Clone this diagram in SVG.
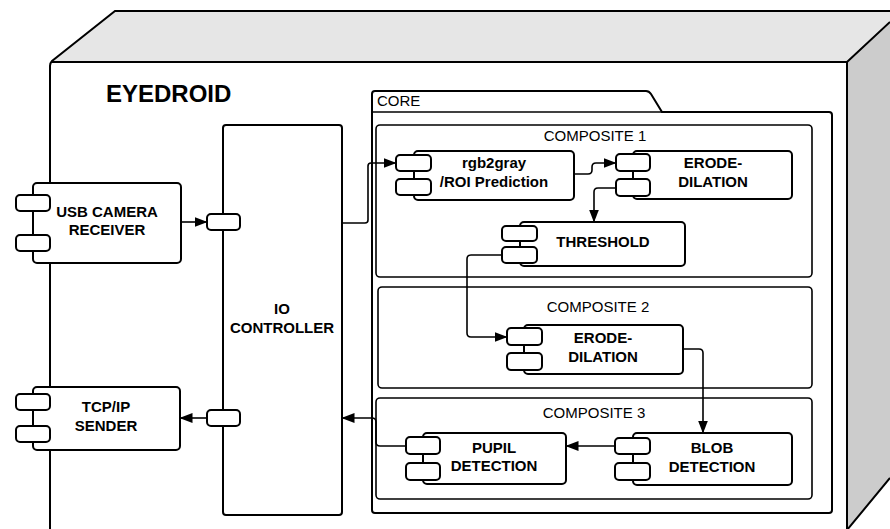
<svg xmlns="http://www.w3.org/2000/svg" width="890" height="529" viewBox="0 0 890 529">
<defs>
<style>
.box{fill:#fff;stroke:#000;stroke-width:2}
.thin{fill:#fff;stroke:#000;stroke-width:1.6}
.conn{fill:none;stroke:#000;stroke-width:1.6}
.lbl{font-family:"Liberation Sans",Arial,sans-serif;font-weight:bold;font-size:15px;text-anchor:middle;fill:#000}
.cap{font-family:"Liberation Sans",Arial,sans-serif;font-size:15px;fill:#000}
</style>
<marker id="ah" markerWidth="13" markerHeight="10" refX="12.5" refY="5" orient="auto" markerUnits="userSpaceOnUse"><path d="M0,0 L13,5 L0,10 z" fill="#000"/></marker>
</defs>

<g id="eyedroid">
<polygon points="50,62 115,11 890,11 890,22 847,62" fill="#e6e6e6"/>
<polygon points="847,62 890,22 890,478 847,529" fill="#cccccc"/>
<rect x="50" y="62" width="797" height="470" fill="#fff"/>
<path d="M50,530 V66 Q50,63 52,61 L115,11 H890 M51,62 H847 L890,22 M847,62 V530 L890,478" fill="none" stroke="#000" stroke-width="2"/>
<text x="106" y="102" font-family="'Liberation Sans',Arial,sans-serif" font-weight="bold" font-size="24">EYEDROID</text>
</g>

<g id="core">
<path d="M372,510 V94 Q372,91 375,91 H646 Q649,91 651,94 L662,112 H829 Q832,112 832,115 V510 Q832,513 829,513 H375 Q372,513 372,510 Z" class="box"/>
<path d="M372,112 H662" class="conn" stroke-width="2"/>
<text x="377" y="106" class="cap">CORE</text>
</g>

<g id="composite1">
<rect x="376" y="125" width="436" height="152" rx="4" class="thin"/>
<text x="595" y="141" class="cap" text-anchor="middle">COMPOSITE 1</text>
</g>
<g id="composite2">
<rect x="378" y="287" width="434" height="101" rx="4" class="thin"/>
<text x="598" y="312" class="cap" text-anchor="middle">COMPOSITE 2</text>
</g>
<g id="composite3">
<rect x="376" y="398" width="436" height="101" rx="4" class="thin"/>
<text x="594" y="418" class="cap" text-anchor="middle">COMPOSITE 3</text>
</g>

<g id="io-controller">
<rect x="223" y="125" width="119" height="390" rx="3" class="box"/>
<rect x="207" y="214" width="33" height="16" rx="4" class="box"/>
<rect x="207" y="410" width="33" height="16" rx="4" class="box"/>
<text x="282" y="314" class="lbl">IO</text>
<text x="282" y="333" class="lbl">CONTROLLER</text>
</g>

<g id="usb-camera-receiver">
<rect x="33" y="183" width="148" height="80" rx="4" class="box"/>
<rect x="16" y="195" width="34" height="16" rx="4" class="box"/>
<rect x="16" y="235" width="34" height="16" rx="4" class="box"/>
<text x="107" y="217" class="lbl">USB CAMERA</text>
<text x="107" y="235" class="lbl">RECEIVER</text>
</g>

<g id="tcpip-sender">
<rect x="33" y="387" width="147" height="63" rx="4" class="box"/>
<rect x="16" y="394" width="34" height="16" rx="4" class="box"/>
<rect x="16" y="426" width="34" height="16" rx="4" class="box"/>
<text x="106" y="412" class="lbl">TCP/IP</text>
<text x="106" y="431" class="lbl">SENDER</text>
</g>

<g id="rgb2gray">
<rect x="414" y="151" width="160" height="49" rx="4" class="box"/>
<rect x="396" y="155" width="35" height="16" rx="4" class="box"/>
<rect x="396" y="179" width="35" height="16" rx="4" class="box"/>
<text x="494" y="168" class="lbl">rgb2gray</text>
<text x="494" y="187" class="lbl">/ROI Prediction</text>
</g>

<g id="erode-dilation-1">
<rect x="633" y="151" width="159" height="48" rx="4" class="box"/>
<rect x="616" y="154" width="34" height="17" rx="4" class="box"/>
<rect x="616" y="179" width="34" height="17" rx="4" class="box"/>
<text x="713" y="168" class="lbl">ERODE-</text>
<text x="713" y="187" class="lbl">DILATION</text>
</g>

<g id="threshold">
<rect x="520" y="222" width="165" height="44" rx="4" class="box"/>
<rect x="502" y="226" width="35" height="15" rx="4" class="box"/>
<rect x="502" y="247" width="35" height="16" rx="4" class="box"/>
<text x="603" y="247" class="lbl">THRESHOLD</text>
</g>

<g id="erode-dilation-2">
<rect x="524" y="325" width="159" height="49" rx="4" class="box"/>
<rect x="507" y="328" width="35" height="17" rx="4" class="box"/>
<rect x="507" y="353" width="35" height="17" rx="4" class="box"/>
<text x="603" y="343" class="lbl">ERODE-</text>
<text x="603" y="362" class="lbl">DILATION</text>
</g>

<g id="pupil-detection">
<rect x="423" y="433" width="143" height="51" rx="4" class="box"/>
<rect x="406" y="437" width="34" height="17" rx="4" class="box"/>
<rect x="406" y="463" width="34" height="17" rx="4" class="box"/>
<text x="494" y="453" class="lbl">PUPIL</text>
<text x="494" y="471" class="lbl">DETECTION</text>
</g>

<g id="blob-detection">
<rect x="633" y="433" width="159" height="52" rx="4" class="box"/>
<rect x="615" y="438" width="35" height="16" rx="4" class="box"/>
<rect x="615" y="463" width="35" height="17" rx="4" class="box"/>
<text x="712" y="453" class="lbl">BLOB</text>
<text x="712" y="472" class="lbl">DETECTION</text>
</g>

<g id="connectors">
<path d="M181,222 H207" class="conn" marker-end="url(#ah)"/>
<path d="M207,418 H180" class="conn" marker-end="url(#ah)"/>
<path d="M342,223 H365 Q368,223 368,220 V166 Q368,163 371,163 H396" class="conn" marker-end="url(#ah)"/>
<path d="M574,174 H588 Q592,174 592,170 V167 Q592,163 596,163 H616" class="conn" marker-end="url(#ah)"/>
<path d="M616,188 H598 Q594,188 594,192 V222" class="conn" marker-end="url(#ah)"/>
<path d="M502,255 H471 Q467,255 467,259 V333 Q467,337 471,337 H507" class="conn" marker-end="url(#ah)"/>
<path d="M683,349 H699 Q703,349 703,353 V433" class="conn" marker-end="url(#ah)"/>
<path d="M615,446 H566" class="conn" marker-end="url(#ah)"/>
<path d="M406,446 H380 Q376,446 376,442 V422 Q376,418 372,418 H342" class="conn" marker-end="url(#ah)"/>
</g>
</svg>
